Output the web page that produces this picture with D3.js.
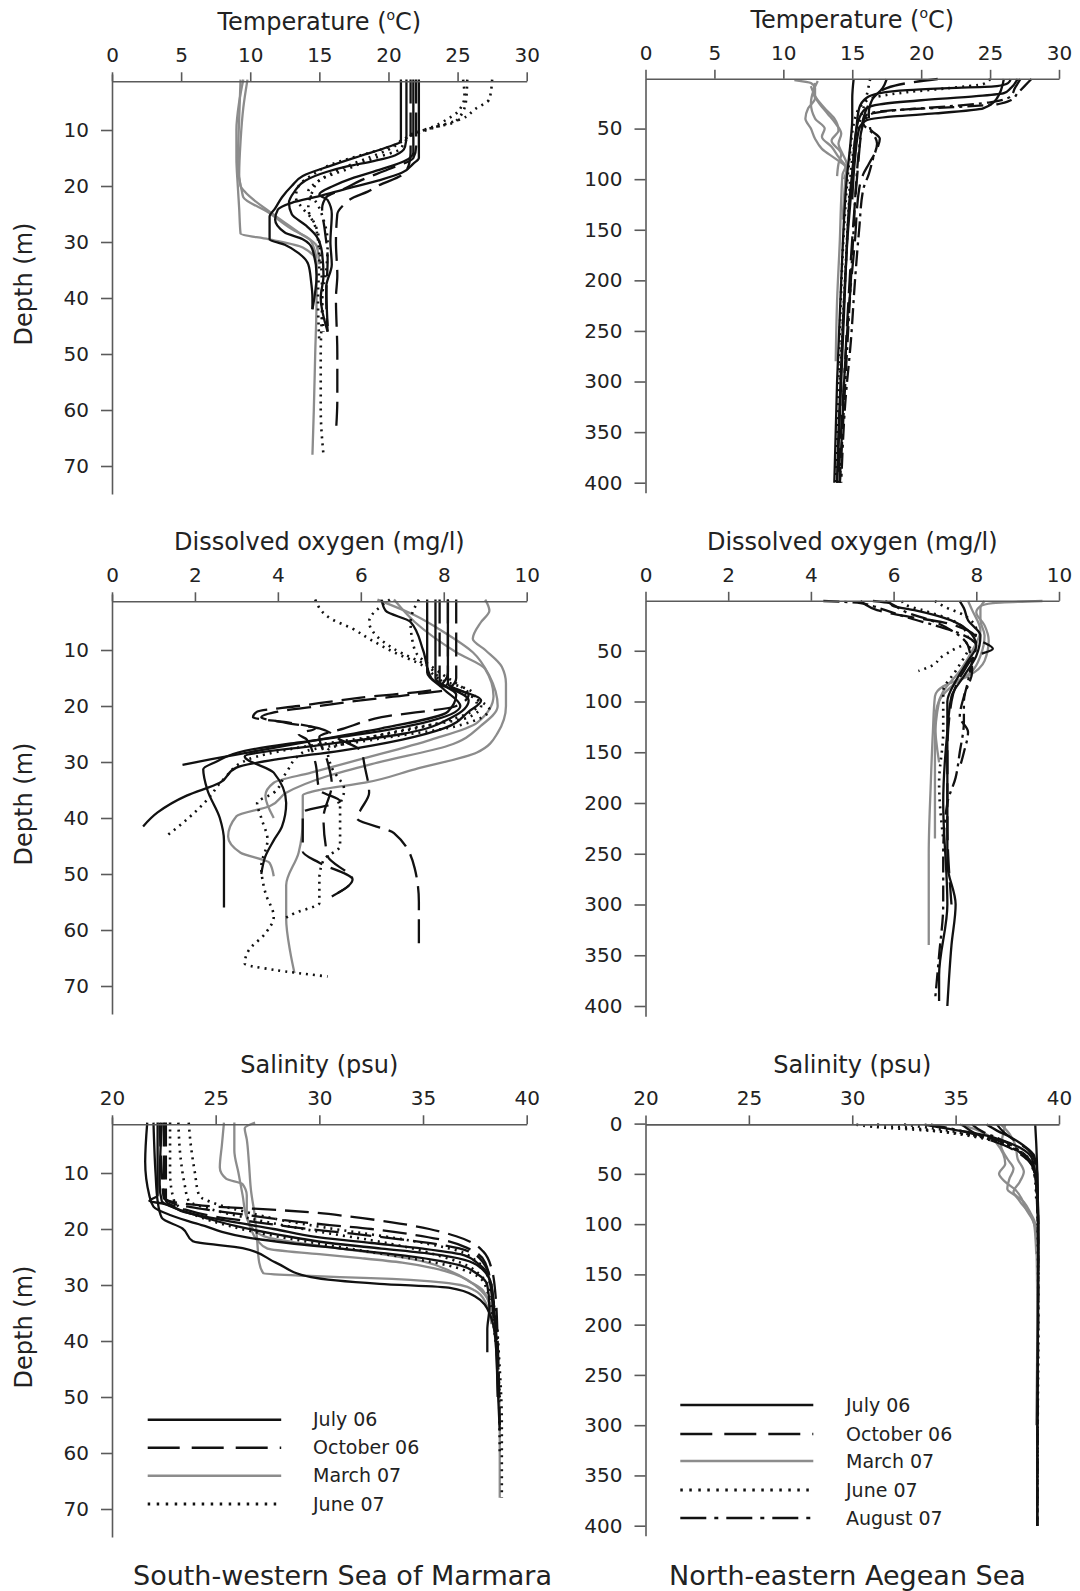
<!DOCTYPE html>
<html><head><meta charset="utf-8">
<script src="https://cdn.jsdelivr.net/npm/d3@7"></script>
<style>
body{margin:0;background:#fff;}
svg text{font-family:"DejaVu Sans",Verdana,sans-serif;fill:#222;}
</style></head><body>
<svg id="c" width="1080" height="1591"></svg>
<script>
// ---------- categories / ticks ----------
const seasons = ["jul","oct","mar","jun","aug"];
const seasonLabels = ["July 06","October 06","March 07","June 07","August 07"];
const tempTicks = [0,5,10,15,20,25,30];
const oxyTicks = [0,2,4,6,8,10];
const salTicks = [20,25,30,35,40];
const depthTicksMarmara = [10,20,30,40,50,60,70];
const depthTicksAegean = [50,100,150,200,250,300,350,400];
const depthTicksAegeanSal = [0,50,100,150,200,250,300,350,400];

// ---------- data: each profile = [[depth, value], ...] ----------
// Marmara temperature
const mtJul = [
 [[1,20.9],[12,20.9],[13,20],[14.6,18],[16.4,15.8],[18.2,13.8],[20,13],[22,12.3],[24,11.8],[25.5,11.4],[27,11.4],[29.5,11.4],[30.5,12.5],[32,13.5],[34,14.2],[37,14.4],[40,14.5],[42,14.5]],
 [[1,22.2],[15,22.2],[16,21.8],[17.6,21],[19,19.3],[20.6,16.8],[21.8,15],[23,13],[24.2,12],[26,11.8],[28.3,12.5],[29.5,13.8],[31.3,14.5],[36,14.8],[42,14.5]],
 [[1,21.3],[11,21.3],[13,21.2],[14.5,20.5],[15.5,19],[16.5,17],[17.5,15.5],[19,14],[21,13.2],[23,12.8],[25,13],[27,14],[29,14.8],[32,15.2],[36,15.3],[40,15.1],[46,15.6]],
 [[1,21.8],[14,21.8],[15.5,21.2],[17,19.5],[18.5,17.5],[20,16],[21.5,15],[22.5,15.6],[25,15.9],[30,15.8],[34,15.9],[38,15.5],[45,15.6]]
];
const mtOct = [
 [[1,21.6],[14,21.6],[16,21.5],[18,21],[20,19.2],[21,18.5],[22,17.5],[23.5,16.7],[25,16.3],[30,16.2],[36,16.3],[40,16.2],[50,16.3],[58,16.3],[64,16.2]],
 [[1,22],[13,22],[15,21.8],[17,20],[19,18],[20.5,16.8],[22,15.5],[24,15.2],[28,15.4],[33,15.6],[40,15.5],[46,15.6]]
];
const mtMar = [
 [[1,9.5],[5,9.2],[10,9.0],[15,9.0],[20,9.1],[24,9.2],[28.5,9.3],[29.5,11.3],[31,13.8],[33.7,14.8],[40,14.8],[50,14.7],[60,14.6],[68,14.5]],
 [[1,9.8],[6,9.5],[12,9.3],[18,9.2],[21,9.4],[22,9.5],[24.7,11.3],[27.7,13],[29.5,14.3],[31,14.6],[33,14.8]],
 [[1,9.3],[8,9.2],[16,9.1],[20,9.3],[21,9.6],[25.3,11.8],[28.3,13.5],[30.7,14.8],[34,15.0]]
];
const mtJun = [
 [[1,27.5],[4.5,27.3],[6.2,26.3],[8,25.3],[9.2,23.8],[10.4,22.3],[11.5,21.2],[12.8,20.3],[14.5,18],[16,16],[18,14.5],[20,13.5],[22,13.3],[24,13.8],[26,14.5],[30,15],[40,15.2],[50,15.1],[60,15.1],[68,15.3]],
 [[1,25.4],[3.9,25.5],[6.8,25],[8,24.3],[9.8,22.8],[10.4,22],[12,21],[13.5,20],[15,18.5],[17,16.5],[19,15],[21,14.2],[23,14.8],[26,15.3],[30,15.6],[35,15.5],[40,15.2],[46,15.3]],
 [[1,25.7],[5,25.6],[8.6,24.8],[9.5,23.3],[10.5,22],[12,21.2],[13.5,20.8],[15,19],[17,17],[19,15],[21,14.5],[24,14.2],[28,14.8],[33,15],[40,14.9],[48,15]]
];
// Aegean temperature
const atJul = [
 [[1,26.5],[5,26.3],[8,25.5],[10,22],[12,19],[15,17],[20,16],[30,15.5],[50,15.3],[80,15.1],[120,14.8],[200,14.5],[300,14.2],[400,13.9]],
 [[1,27],[10,26.5],[15,26],[18,24],[22,20],[26,17],[30,16],[40,15.5],[60,15.2],[100,15],[150,14.7],[250,14.3],[350,14],[400,13.9]],
 [[1,26],[20,25.5],[30,24.5],[35,21],[38,18],[42,16],[50,15.5],[80,15.2],[120,15]],
 [[1,15.1],[20,15],[40,15],[60,14.9],[100,14.6],[200,14.2],[300,13.9],[400,13.7]]
];
const atOct = [
 [[1,21.2],[5,19],[10,17.5],[20,16.5],[35,16.2],[50,16.3],[60,17],[70,16.8],[85,16.2],[95,15.8],[110,15.5],[160,15.2],[220,14.8],[300,14.4],[400,14]],
 [[1,17.5],[10,17.2],[20,16.5],[40,15.8],[60,15.6],[90,15.4],[140,15.1],[250,14.6],[400,14.1]]
];
const atMar = [
 [[2,10.8],[5,12],[10,12.3],[20,12.3],[30,11.8],[40,11.6],[50,12],[60,12.3],[70,12.8],[80,13.8],[88,14.5],[95,14.3],[120,14.2],[160,14.1],[220,13.9],[280,13.8]],
 [[5,12.3],[15,12.2],[25,12.6],[35,13.2],[45,13.8],[55,14.2],[65,14],[75,14.3],[85,14.6],[100,14.5],[140,14.3]],
 [[3,12.5],[12,12.2],[25,12],[40,12.3],[50,13],[58,12.8],[68,13.5],[78,14],[90,14.6],[100,14.4]],
 [[8,12],[20,12.4],[30,13],[40,13.7],[52,14],[62,13.5],[75,14.2],[85,14],[97,13.9]]
];
const atJun = [
 [[1,25],[6,24.5],[10,22],[14,19],[18,17],[25,15.8],[40,15.2],[80,14.8],[150,14.4],[250,14.1],[350,13.9],[400,13.8]],
 [[1,16.3],[20,16],[40,15.6],[80,15],[140,14.7],[220,14.4],[300,14.1]]
];
const atAug = [
 [[1,28],[8,27.5],[15,27],[22,26.5],[26,25.5],[29,22],[31,19],[33,17],[37,16],[45,15.8],[55,16.5],[65,16.8],[80,16.5],[95,16.2],[110,15.8],[150,15.5],[200,15.2],[260,14.9],[320,14.5],[400,14.2]],
 [[1,27.2],[10,26.8],[18,26.5],[24,25],[28,22],[32,18],[36,16.3],[50,15.7],[70,15.5],[100,15.3],[150,15.1],[250,14.7],[400,14.1]]
];
// Marmara dissolved oxygen
const moJul = [
 [[1,7.6],[14,7.6],[17,8.0],[20,8.4],[23,7.5],[25,6],[26.5,4.5],[28,3.2],[30,2.5],[31.3,2.2],[35,2.3],[40,2.6],[44,2.7],[50,2.7],[56,2.7]],
 [[1,7.8],[15,7.8],[19,8.6],[22,8.2],[25,7],[27,5],[29,3.2],[31.9,3.9],[37.3,4.2],[41.5,4.1],[44,3.9],[46.8,3.7],[50,3.6]],
 [[1,8.1],[16,8.1],[19,8.9],[21,8.6],[24,8],[26,7],[28,5.5],[29.5,4.0],[31,3.0],[33.7,2.6],[36,1.8],[39,1.1],[41.5,0.75]],
 [[1,6.5],[3,6.6],[5,7.2],[10,7.5],[15,7.7],[18,8.3],[21,8.1],[24,6.5],[26,5],[28,3.5],[29.5,2.4],[30.5,1.7]]
];
const moOct = [
 [[1,8.3],[15,8.3],[17,8.1],[18,7.2],[19,6],[20,5],[21,4],[22,3.6],[23,4.2],[24,5],[26,5.5],[28,6],[31,6.1],[35.5,6.2],[38.5,6.0],[40,5.9],[42.7,6.8],[49,7.3],[55,7.4],[62.4,7.4]],
 [[1,8.1],[14,8.1],[17,7.8],[18.5,6],[20,4.5],[21,3.5],[22,3.4],[23,4.3],[24,4.9],[25,4.5],[26,4.7],[30,4.9],[35,5.0],[37,5.5],[39,4.6],[42,4.6],[46,4.6],[48,5.0],[51,5.8],[54,5.3]],
 [[1,7.9],[13,7.9],[16,7.9],[18,8.6],[20,8.3],[22,6.5],[24,5.6],[25.5,5.0],[30,5.2],[34,5.3],[40,5.1],[46.8,5.2],[51,5.8],[54,5.3]]
];
const moMar = [
 [[1,9.0],[3,9.1],[5,8.9],[8,8.7],[10,9.0],[13,9.4],[16,9.5],[20,9.5],[24.8,9.3],[28.3,8.8],[31.3,7.3],[33.7,6.1],[35,5.0],[36,4.6],[40.3,4.6],[46.2,4.5],[52,4.2],[58,4.2],[64,4.3],[67.7,4.4]],
 [[1,6.4],[3.8,7.3],[6.8,8.0],[10.4,8.7],[14.6,9.1],[20,9.3],[23.5,8.9],[27.1,8.1],[30.1,6.4],[32.5,5.2],[35.5,4.2],[37.9,3.8],[39.7,3.0],[43.3,2.8],[46.2,3.1],[48,3.8],[50.4,3.9]],
 [[1,6.8],[5,7.3],[10.4,8.3],[13.4,9.0],[18.2,9.2],[23,8.8],[26,7.7],[29.5,6.0],[31.9,4.8],[33.7,3.9],[36,3.7],[40,3.9]]
];
const moJun = [
 [[1,4.9],[4.5,5.3],[6.2,5.8],[8,6.2],[10.4,6.8],[12.8,7.5],[15.2,7.9],[17.6,8.7],[20,8.8],[23,7.9],[25.3,6.4],[27.7,4.3],[29.5,3.3],[33,2.7],[36.7,2.3],[40.3,1.8],[43.3,1.3]],
 [[1,6.7],[5,6.2],[6.8,6.3],[9.8,6.8],[12.8,7.6],[16.4,8.1],[18.8,8.8],[20.6,9.1],[23.6,8.3],[25.9,6.4],[28.3,4.6],[31.9,4.2],[35.5,3.9],[37.3,3.5],[40,3.6],[43.9,3.75],[48.7,3.6],[53.4,3.7],[57.6,3.9],[60.6,3.7],[63.6,3.3],[66,3.2],[67.1,3.9],[68.3,5.2]],
 [[1,7.4],[5,7.2],[10,7.3],[14,7.9],[17,8.5],[20,8.9],[22,8.6],[24,7.2],[26,6.0],[28,5.2],[31,5.3],[35,5.6],[38,5.5],[40.3,5.5],[45,5.5],[47.5,5.1],[51,5.0],[55.2,5.0],[57,4.4],[58.2,4.1]]
];
// Aegean dissolved oxygen
const aoJul = [
 [[1,5.5],[3,5.9],[6,6.0],[10,6.5],[15,7.0],[22,7.5],[30,7.8],[45,8.0],[60,7.8],[80,7.5],[100,7.3],[140,7.3],[200,7.3],[260,7.3],[300,7.5],[340,7.4],[400,7.3]],
 [[1,7.6],[8,7.7],[20,7.8],[35,8.1],[55,8.0],[75,7.7],[95,7.4],[130,7.3],[200,7.2],[300,7.3],[370,7.1],[395,7.1]]
];
const aoOct = [
 [[1,5.2],[4,5.3],[10,5.6],[16,6.3],[22,7.2],[30,7.8],[40,8.1],[48,8.4],[55,8.0],[70,7.7],[100,7.4],[150,7.3],[220,7.3],[300,7.4]]
];
const aoMar = [
 [[1,9.6],[3,8.4],[6,8.1],[12,8.0],[25,8.2],[40,8.3],[60,8.2],[75,7.8],[85,7.2],[95,7.0],[130,6.95],[180,6.9],[250,6.85],[340,6.85]],
 [[1,8.2],[8,8.1],[20,8.1],[35,8.2],[55,8.1],[70,7.9],[85,7.4],[100,7.1],[140,7.0],[190,7.0],[235,7.0]],
 [[1,7.8],[10,7.9],[30,8.1],[50,7.9],[70,7.6],[90,7.2],[120,7.0],[160,7.1]]
];
const aoJun = [
 [[1,6.2],[5,6.3],[10,6.7],[18,7.3],[28,7.7],[40,7.8],[50,7.4],[58,7.1],[63,7.0],[70,6.6]],
 [[1,7.0],[6,7.2],[15,7.7],[30,8.0],[50,7.8],[70,7.5],[90,7.2],[130,7.2],[180,7.1],[235,7.2]]
];
const aoAug = [
 [[1,4.3],[3,5.2],[6,5.5],[10,5.8],[18,6.4],[25,7.0],[33,7.6],[45,8.0],[60,7.9],[80,7.8],[100,7.7],[120,7.7],[150,7.6],[175,7.5],[200,7.3],[250,7.2],[300,7.2],[350,7.1],[395,7.0]],
 [[1,5.8],[5,6.0],[12,6.3],[20,6.9],[30,7.4],[45,7.8],[70,7.9],[95,7.7],[115,7.6],[130,7.8],[150,7.7],[165,7.6]]
];
// Marmara salinity
const msJul = [
 [[1,21.7],[8,21.6],[14,21.8],[16,22.0],[17.5,22.8],[18.5,23.6],[19.5,24.5],[20.5,25.3],[21.5,26.5],[22.5,28.5],[23.5,31],[24.5,33.5],[25.5,35.5],[26.5,36.8],[28,37.6],[30,38.1],[34,38.2],[38,38.1],[42,38.1]],
 [[1,22.0],[10,22.1],[15,22.2],[18,22.4],[19.9,23.4],[22.2,23.9],[23.4,26.3],[26,27.9],[28.6,29.6],[29.8,32.9],[30.5,36.3],[32,37.5],[35,38.2],[40,38.5],[50,38.6]],
 [[1,22.4],[12,22.3],[15,22.4],[16.5,23.2],[18,24.5],[19.5,26],[21,28],[22.5,30.5],[23.5,33],[24.5,35.5],[25.5,37],[27,37.8],[30,38.3],[38,38.5],[48,38.6],[56,38.7]],
 [[1,22.2],[14,22.2],[15,21.8],[15.5,22.5],[17,23.5],[18.5,25.5],[20,27.8],[21.5,30],[22.5,32.5],[23.5,35],[24.5,36.8],[26,37.6],[29,38.2],[36,38.4]]
];
const msOct = [
 [[1,22.3],[10,22.4],[14.5,22.5],[15.5,23.5],[16,25],[16.5,27.5],[17,29.5],[17.8,31.5],[18.8,33.5],[20,35.3],[21.3,36.6],[22.5,37.4],[24,37.9],[27,38.3],[32,38.5],[40,38.6],[55,38.7]],
 [[1,22.5],[14,22.5],[15.5,23],[16.5,24.5],[17.5,26.5],[18.5,28.5],[19.3,30.5],[20,32.5],[21,34.5],[22,36],[23.5,37.2],[26,38],[33,38.4],[45,38.6]],
 [[1,22.6],[15,22.6],[16.5,23.5],[17.8,25],[18.8,27],[19.8,29],[20.8,31.5],[21.8,33.8],[22.8,35.8],[24,37.2],[26,37.9],[30,38.3]]
];
const msMar = [
 [[1,25.4],[5,25.3],[9,25.2],[11,25.5],[12,26.3],[14,26.5],[17,26.5],[20,26.7],[22,27.0],[23.5,27.5],[24.5,30],[25.2,32],[26,34],[27,35.5],[28,36.5],[29.5,37.3],[31,37.9],[35,38.3],[45,38.6],[55,38.7],[68,38.7]],
 [[1,25.9],[6,25.9],[10,26.1],[14,26.3],[18,26.5],[20,26.8],[21.5,27.5],[22.5,29],[23.5,31],[24.5,33],[25.8,35],[27.5,36.3],[29,37.1],[31,37.8],[34,38.3],[40,38.5]],
 [[1,26.9],[2,26.4],[4,26.5],[8,26.6],[13,26.7],[18,26.9],[22,27.0],[26,27.1],[27.9,27.3],[28.3,29],[28.6,31],[28.9,33.5],[29.4,35.5],[30,36.8],[31,37.5],[33,38],[37,38.3]]
];
const msJun = [
 [[1,23.7],[5,23.8],[10,24.0],[14,24.2],[15.5,25],[17,26.5],[18.5,28.3],[19.7,30.2],[20.7,32],[21.7,33.8],[22.7,35.3],[23.8,36.6],[25.5,37.5],[27.5,38],[33,38.4],[45,38.7],[55,38.8],[68,38.8]],
 [[1,23.2],[7,23.3],[12,23.5],[15,23.7],[16.5,24.8],[18,26.5],[19.5,28.5],[20.8,30.5],[22,32.5],[23.3,34.3],[24.8,35.8],[26,36.8],[28,37.7],[32,38.3],[40,38.6],[60,38.7]],
 [[1,22.8],[10,22.8],[15,23],[17.5,24],[19.5,25.7],[21,27.5],[22.5,29.8],[24,32.3],[25.3,34.5],[26.5,36.2],[27.8,37.3],[30,38],[40,38.5],[50,38.7]]
];
// Aegean salinity
const asJul = [
 [[1,33.5],[4,34.3],[8,35.5],[12,36.5],[17,37.3],[25,38.2],[35,38.7],[60,38.9],[100,39.0],[200,38.98],[300,38.95],[400,38.95]],
 [[1,38.85],[20,38.9],[50,38.95],[120,39.0],[250,38.97],[400,38.95]],
 [[1,36.5],[7,37],[14,37.7],[22,38.3],[32,38.8],[50,38.95],[120,39]]
];
const asOct = [
 [[1,37],[8,37.3],[16,37.8],[26,38.5],[40,38.85],[70,38.95],[150,39]],
 [[1,35.3],[8,35.8],[15,36.5],[22,37.4],[30,38.1],[42,38.7],[60,38.9],[100,39]]
];
const asMar = [
 [[1,35.2],[6,36],[12,36.6],[20,37],[30,37.3],[40,37.4],[50,37.1],[58,37.4],[66,37.9],[75,38.2],[85,38.4],[95,38.7],[110,38.9],[200,38.95],[300,38.9]],
 [[1,37.4],[10,37.3],[22,37.2],[35,37.5],[45,37.8],[55,37.6],[65,37.5],[72,37.9],[80,38.2],[90,38.6],[100,38.8],[130,38.9]],
 [[1,37.2],[10,37.6],[22,37.9],[35,38.0],[48,38.3],[58,38.1],[68,37.8],[78,38.3],[88,38.6],[100,38.85],[120,38.9]]
];
const asJun = [
 [[1,30.2],[2,30.5],[4,31.5],[6,33],[9,34.8],[13,36.2],[18,37.1],[25,37.9],[32,38.4],[45,38.8],[80,38.95],[200,39.0],[300,38.97],[400,38.95]],
 [[1,31.2],[3,32.2],[6,33.6],[10,35],[16,36.6],[24,37.7],[34,38.4],[48,38.8],[75,38.9]],
 [[1,32.5],[5,34],[10,35.5],[16,36.7],[24,37.7],[35,38.5],[55,38.85]]
];
const asAug = [
 [[1,33.8],[5,34.8],[10,35.8],[16,36.9],[22,37.6],[30,38.2],[40,38.7],[60,38.9],[150,39],[300,38.97],[400,38.96]],
 [[1,35.8],[8,36.3],[15,37.1],[24,37.9],[34,38.5],[50,38.85],[80,38.95]]
];

// ---------- styles ----------
const style = {
  jul:{color:"#111", dash:null, w:2.3},
  oct:{color:"#111", dash:"24,9", w:2.3},
  mar:{color:"#8c8c8c", dash:null, w:2.3},
  jun:{color:"#111", dash:"2,5", w:2.6},
  aug:{color:"#111", dash:"16,5,3,5", w:2.3}
};

const svg = d3.select("#c");
const FONT = '"DejaVu Sans",Verdana,sans-serif';

const L = {x0:112, x1:526.7};
const R = {x0:645.5, x1:1059};
const leftY0 = [74, 594, 1117];
const rightY0 = [78, 600, 1123.6];
const rightY400 = [482.7, 1006, 1525.7];

const panels = [
 {side:L, row:0, title:"Temperature (", sup:"o", tail:"C)", xDom:[0,30], xTicks:tempTicks, marmara:true, data:{jul:mtJul,oct:mtOct,mar:mtMar,jun:mtJun}},
 {side:R, row:0, title:"Temperature (", sup:"o", tail:"C)", xDom:[0,30], xTicks:tempTicks, marmara:false, yTicks:depthTicksAegean, data:{jul:atJul,oct:atOct,mar:atMar,jun:atJun,aug:atAug}},
 {side:L, row:1, title:"Dissolved oxygen (mg/l)", xDom:[0,10], xTicks:oxyTicks, marmara:true, data:{jul:moJul,oct:moOct,mar:moMar,jun:moJun}},
 {side:R, row:1, title:"Dissolved oxygen (mg/l)", xDom:[0,10], xTicks:oxyTicks, marmara:false, yTicks:depthTicksAegean, data:{jul:aoJul,oct:aoOct,mar:aoMar,jun:aoJun,aug:aoAug}},
 {side:L, row:2, title:"Salinity (psu)", xDom:[20,40], xTicks:salTicks, marmara:true, data:{jul:msJul,oct:msOct,mar:msMar,jun:msJun}},
 {side:R, row:2, title:"Salinity (psu)", xDom:[20,40], xTicks:salTicks, marmara:false, yTicks:depthTicksAegeanSal, data:{jul:asJul,oct:asOct,mar:asMar,jun:asJun,aug:asAug}}
];

function styleAxis(g){
  g.selectAll("path,line").attr("stroke","#5a5a5a").attr("stroke-width",1.6);
  g.selectAll("text").attr("font-family",FONT).attr("font-size",20).attr("fill","#222");
}

panels.forEach(p=>{
  const x = d3.scaleLinear().domain(p.xDom).range([p.side.x0,p.side.x1]);
  let y, axisY, yTicks;
  if(p.marmara){
    const y0 = leftY0[p.row];
    y = d3.scaleLinear().domain([0,75]).range([y0, y0+420]);
    axisY = y(1.3);
    yTicks = depthTicksMarmara;
  } else {
    const y0 = rightY0[p.row], y4 = rightY400[p.row];
    const k = (y4-y0)/400;
    y = d3.scaleLinear().domain([0,410]).range([y0, y0+410*k]);
    axisY = y(0.8);
    yTicks = p.yTicks;
  }
  const g = svg.append("g");
  const line = d3.line().x(d=>x(d[1])).y(d=>y(d[0])).curve(d3.curveMonotoneY);
  ["mar","jul","oct","jun","aug"].forEach(s=>{
    const profs = p.data[s]; if(!profs) return;
    const st = style[s];
    g.selectAll(null).data(profs).enter().append("path")
      .attr("d",line).attr("fill","none").attr("stroke",st.color)
      .attr("stroke-width",st.w).attr("stroke-dasharray",st.dash)
      .attr("stroke-linejoin","round");
  });
  const xa = svg.append("g").attr("transform",`translate(0,${axisY})`)
    .call(d3.axisTop(x).tickValues(p.xTicks).tickSize(9).tickSizeOuter(0).tickPadding(10).tickFormat(d3.format("d")));
  styleAxis(xa);
  const ya = svg.append("g").attr("transform",`translate(${p.side.x0},0)`)
    .call(d3.axisLeft(y).tickValues(yTicks).tickSize(11).tickSizeOuter(0).tickPadding(12).tickFormat(d3.format("d")));
  styleAxis(ya);
  const t = svg.append("text").attr("x",(p.side.x0+p.side.x1)/2).attr("y",axisY-51)
    .attr("text-anchor","middle").attr("font-family",FONT).attr("font-size",24).attr("fill","#222");
  t.append("tspan").text(p.title);
  if(p.sup){
    t.append("tspan").attr("font-size",14).attr("dy",-10).text(p.sup);
    t.append("tspan").attr("dy",10).text(p.tail);
  }
  if(p.marmara){
    const r = y.range();
    svg.append("text").attr("transform",`translate(31.5,${(r[0]+r[1])/2}) rotate(-90)`)
      .attr("text-anchor","middle").attr("font-family",FONT).attr("font-size",24).attr("fill","#222")
      .text("Depth (m)");
  }
});

function legend(x0,x1,tx,rows,keys){
  keys.forEach((s,i)=>{
    const st = style[s];
    svg.append("line").attr("x1",x0).attr("x2",x1).attr("y1",rows[i]).attr("y2",rows[i])
      .attr("stroke",st.color).attr("stroke-width",st.w+0.2)
      .attr("stroke-dasharray", s==="oct" ? "32,12" : s==="jun" ? "2.5,6.5" : s==="aug" ? "26,8,4,8" : null);
    svg.append("text").attr("x",tx).attr("y",rows[i]).attr("dy","0.35em")
      .attr("font-family",FONT).attr("font-size",19).attr("fill","#222")
      .text(seasonLabels[seasons.indexOf(s)]);
  });
}
legend(147.7,281.2,313,[1419.7,1447.7,1475.7,1504],["jul","oct","mar","jun"]);
legend(680.3,813.3,846,[1405,1434,1461,1490,1518],["jul","oct","mar","jun","aug"]);

svg.append("text").attr("x",133).attr("y",1585).attr("font-family",FONT).attr("font-size",27).attr("fill","#222")
  .text("South-western Sea of Marmara");
svg.append("text").attr("x",669).attr("y",1585).attr("font-family",FONT).attr("font-size",27).attr("fill","#222")
  .text("North-eastern Aegean Sea");
</script>
</body></html>
